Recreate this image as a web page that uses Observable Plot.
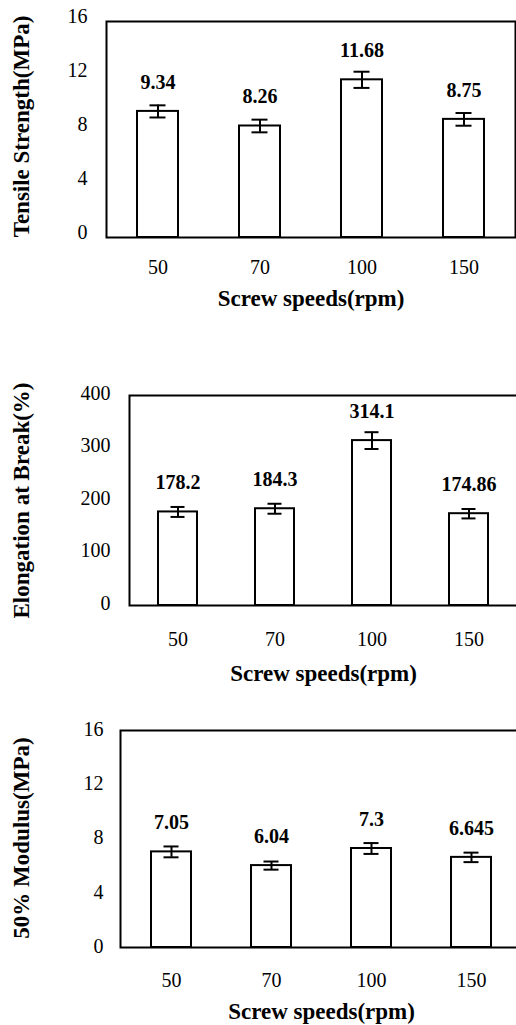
<!DOCTYPE html>
<html><head><meta charset="utf-8">
<script src="https://cdn.jsdelivr.net/npm/d3@7"></script>
<script src="https://cdn.jsdelivr.net/npm/@observablehq/plot@0.6"></script>
<style>
html,body{margin:0;padding:0;background:#fff;overflow:hidden;}
#wrap{position:relative;width:516px;height:1025px;overflow:hidden;background:#fff;}
.panel{position:absolute;left:0;}
.panel svg{max-width:none !important;}
</style></head><body><div id="wrap"></div>
<script>
const speeds = ["50", "70", "100", "150"];
const tensile = [9.34, 8.26, 11.68, 8.75];
const tensileErr = [0.45, 0.47, 0.6, 0.47];
const elongation = [178.2, 184.3, 314.1, 174.86];
const elongationErr = [9.5, 9.5, 16, 9];
const modulus = [7.05, 6.04, 7.3, 6.645];
const modulusErr = [0.4, 0.3, 0.4, 0.35];
const tensileTicks = [0, 4, 8, 12, 16];
const elongationTicks = [0, 100, 200, 300, 400];
const modulusTicks = [0, 4, 8, 12, 16];
const xTitle = "Screw speeds(rpm)";
const yTitles = ["Tensile Strength(MPa)", "Elongation at Break(%)", "50% Modulus(MPa)"];

const FONT = "'Liberation Serif', Tinos, 'Times New Roman', Times, 'DejaVu Serif', serif";

function panel(values, errs, ticks, yTitle, L) {
  const data = speeds.map((s, i) => ({speed: s, value: values[i], err: errs[i]}));
  return Plot.plot({
    width: L.width, height: L.height,
    marginTop: L.mt, marginBottom: L.mb, marginLeft: L.ml, marginRight: L.mr,
    style: {fontFamily: FONT, fontSize: "20px", color: "black", background: "white", maxWidth: "none"},
    x: {type: "band", domain: speeds, paddingInner: 0.6, paddingOuter: 0.3, label: null},
    y: {domain: [ticks[0], ticks[ticks.length - 1]], label: null},
    marks: [
      Plot.barY(data, {x: "speed", y: "value", fill: "white", stroke: "black", strokeWidth: 2}),
      Plot.ruleX(data, {x: "speed", y1: d => d.value - d.err, y2: d => d.value + d.err, stroke: "black", strokeWidth: 2}),
      Plot.tickY(data, {x: "speed", y: d => d.value - d.err, stroke: "black", strokeWidth: 2, insetLeft: 12.5, insetRight: 12.5}),
      Plot.tickY(data, {x: "speed", y: d => d.value + d.err, stroke: "black", strokeWidth: 2, insetLeft: 12.5, insetRight: 12.5}),
      Plot.text(data, {x: "speed", y: "value", text: d => String(d.value), dy: -29, fontWeight: "bold", fontSize: 20, fontFamily: FONT}),
      Plot.frame({stroke: "black", strokeWidth: 2}),
      Plot.axisY({ticks: ticks, tickSize: 0, tickPadding: L.ytp, dy: L.ydy, label: null, fontSize: 20, fontFamily: FONT}),
      Plot.axisX({tickSize: 0, tickPadding: L.xtp, label: null, fontSize: 20, fontFamily: FONT}),
      Plot.text([yTitle], {frameAnchor: "left", textAnchor: "middle", lineAnchor: "middle", text: d => d, rotate: -90, dx: L.ytdx, dy: L.ytdy, fontWeight: "bold", fontSize: 23, fontFamily: FONT}),
      Plot.text([xTitle], {frameAnchor: "bottom", textAnchor: "middle", lineAnchor: "middle", text: d => d, dy: L.xtdy, fontWeight: "bold", fontSize: 23, fontFamily: FONT})
    ]
  });
}

const layouts = [
  {top: 0, width: 516, height: 320, mt: 21, mb: 83, ml: 106, mr: 1, ytp: 19, ydy: -5, xtp: 22.5, ytdx: -85, ytdy: -3, xtdy: 61},
  {top: 330, width: 518, height: 360, mt: 65, mb: 85, ml: 129, mr: 1, ytp: 19, ydy: -2, xtp: 26.5, ytdx: -108, ytdy: 0, xtdy: 68},
  {top: 690, width: 523, height: 335, mt: 40, mb: 78, ml: 120, mr: 1, ytp: 17, ydy: -1, xtp: 25.5, ytdx: -99, ytdy: -1, xtdy: 64}
];
const series = [[tensile, tensileErr, tensileTicks], [elongation, elongationErr, elongationTicks], [modulus, modulusErr, modulusTicks]];

const wrap = document.getElementById("wrap");
series.forEach(([v, e, t], i) => {
  const div = document.createElement("div");
  div.className = "panel";
  div.style.top = layouts[i].top + "px";
  div.appendChild(panel(v, e, t, yTitles[i], layouts[i]));
  wrap.appendChild(div);
});
</script></body></html>
